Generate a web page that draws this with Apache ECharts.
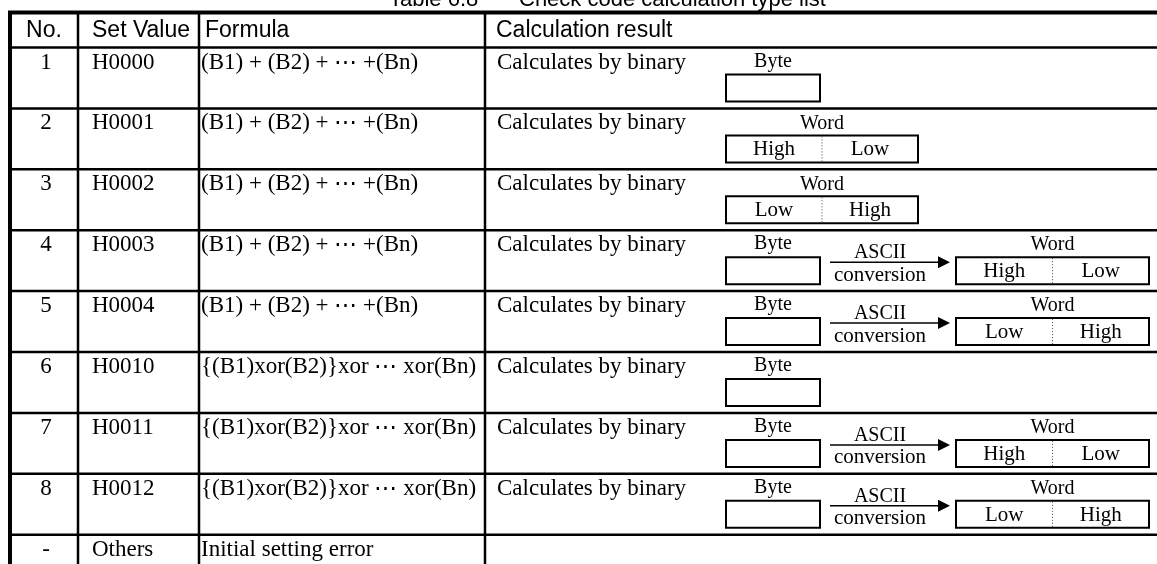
<!DOCTYPE html>
<html><head><meta charset="utf-8">
<script src="https://cdn.jsdelivr.net/npm/echarts@6/dist/echarts.min.js"></script>
<style>html,body{margin:0;padding:0;background:#fff}#c{width:1157px;height:564px}</style>
</head><body><div id="c"></div>
<script>
// ---------- content ----------
const titleParts = ['Table 6.8', 'Check code calculation type list'];
const headers = ['No.', 'Set Value', 'Formula', 'Calculation result'];
const rowNos = ['1', '2', '3', '4', '5', '6', '7', '8', '-'];
const setValues = ['H0000', 'H0001', 'H0002', 'H0003', 'H0004', 'H0010', 'H0011', 'H0012', 'Others'];
const formulas = [
  '(B1) + (B2) + \u22EF +(Bn)',
  '(B1) + (B2) + \u22EF +(Bn)',
  '(B1) + (B2) + \u22EF +(Bn)',
  '(B1) + (B2) + \u22EF +(Bn)',
  '(B1) + (B2) + \u22EF +(Bn)',
  '{(B1)xor(B2)}xor \u22EF xor(Bn)',
  '{(B1)xor(B2)}xor \u22EF xor(Bn)',
  '{(B1)xor(B2)}xor \u22EF xor(Bn)',
  'Initial setting error'
];
const results = ['Calculates by binary', 'Calculates by binary', 'Calculates by binary', 'Calculates by binary',
  'Calculates by binary', 'Calculates by binary', 'Calculates by binary', 'Calculates by binary', ''];
// diagram kind per row: byte only, word only, byte -> ASCII conversion -> word
const resultForms = ['byte', 'word', 'word', 'byteToWord', 'byteToWord', 'byte', 'byteToWord', 'byteToWord', ''];
const wordHalves = [[], ['High', 'Low'], ['Low', 'High'], ['High', 'Low'], ['Low', 'High'], [], ['High', 'Low'], ['Low', 'High'], []];
const diagramLabels = { byte: 'Byte', word: 'Word', ascii: 'ASCII', conversion: 'conversion' };

// ---------- layout / style ----------
const SERIF = '"Liberation Serif", "Times New Roman", serif';
const SANS = '"Liberation Sans", Arial, sans-serif';
const X_LEFT = 10, X_COL1 = 78, X_COL2 = 199, X_COL3 = 485, X_RIGHT = 1170;
const HEADER_SPAN = 0.575;           // header height in row units
const GRID_TOP = 47.5, ROW_PX = 60.9;
const Y_MAX = (564 - GRID_TOP) / ROW_PX;  // visible rows in the window
const BYTE_BOX = [726, 820];
const WORD_BOX_NEAR = [726, 918];
const WORD_BOX_FAR = [956, 1149];
const ARROW = [830, 950];
const ASCII_X = 880;

function line(x1, y1, x2, y2, w, dash) {
  return { type: 'line', shape: { x1, y1, x2, y2 },
    style: { stroke: dash ? '#444' : '#000', lineWidth: w, lineDash: dash || null } };
}
function text(x, y, s, size, family, align) {
  return { type: 'text', x, y,
    style: { text: s, fontSize: size, fontFamily: family, fill: '#000', align: align || 'left', verticalAlign: 'middle' } };
}
function rect(x, y, w, h) {
  return { type: 'rect', shape: { x, y, width: w, height: h },
    style: { fill: '#fff', stroke: '#000', lineWidth: 2 } };
}

function renderFrame(params, api) {
  const cx = v => api.coord([v, 0])[0];
  const cy = v => api.coord([0, v])[1];
  const yTop = cy(-HEADER_SPAN), yHead = cy(0), yEnd = cy(rowNos.length);
  const ch = [];
  ch.push(line(cx(X_LEFT) - 2, yTop, cx(X_RIGHT), yTop, 4));
  ch.push(line(cx(X_LEFT), yTop, cx(X_LEFT), yEnd, 4));
  [X_COL1, X_COL2, X_COL3].forEach(c => ch.push(line(cx(c), yTop, cx(c), yEnd, 2.5)));
  ch.push(line(cx(X_LEFT), yHead, cx(X_RIGHT), yHead, 2.5));
  const ym = (yTop + yHead) / 2 + 1;
  ch.push(text((cx(X_LEFT) + cx(X_COL1)) / 2, ym, headers[0], 23, SANS, 'center'));
  ch.push(text(cx(X_COL1) + 14, ym, headers[1], 23, SANS));
  ch.push(text(cx(X_COL2) + 6, ym, headers[2], 23, SANS));
  ch.push(text(cx(X_COL3) + 11, ym, headers[3], 23, SANS));
  return { type: 'group', children: ch };
}

function renderRow(params, api) {
  const i = api.value(1);
  const cx = v => api.coord([v, 0])[0];
  const T = api.coord([0, i])[1];
  const B = api.coord([0, i + 1])[1];
  const ch = [];
  ch.push(line(cx(X_LEFT), B, cx(X_RIGHT), B, 2.5));
  const yt = T + 15;
  ch.push(text((cx(X_LEFT) + cx(X_COL1)) / 2 + 2, yt, rowNos[i], 23, SERIF, 'center'));
  ch.push(text(cx(X_COL1) + 14, yt, setValues[i], 23, SERIF));
  ch.push(text(cx(X_COL2) + 2, yt, formulas[i], 23, SERIF));
  ch.push(text(cx(X_COL3) + 12, yt, results[i], 23, SERIF));

  const form = resultForms[i];
  const boxTop = T + 27, boxH = 27;
  const labelY = T + 15;
  function wordBox(xr, halves) {
    const x0 = cx(xr[0]), x1 = cx(xr[1]), mid = (x0 + x1) / 2;
    ch.push(rect(x0, boxTop, x1 - x0, boxH));
    ch.push(line(mid, boxTop + 1, mid, boxTop + boxH - 1, 1, [1, 2]));
    ch.push(text(mid, labelY, diagramLabels.word, 20, SERIF, 'center'));
    ch.push(text((x0 + mid) / 2, boxTop + boxH / 2 + 1, halves[0], 21, SERIF, 'center'));
    ch.push(text((mid + x1) / 2, boxTop + boxH / 2 + 1, halves[1], 21, SERIF, 'center'));
  }
  function byteBox() {
    const x0 = cx(BYTE_BOX[0]), x1 = cx(BYTE_BOX[1]);
    ch.push(rect(x0, boxTop, x1 - x0, boxH));
    ch.push(text((x0 + x1) / 2, labelY - 1, diagramLabels.byte, 20, SERIF, 'center'));
  }
  if (form === 'byte') {
    byteBox();
  } else if (form === 'word') {
    wordBox(WORD_BOX_NEAR, wordHalves[i]);
  } else if (form === 'byteToWord') {
    byteBox();
    const ay = T + 32;
    const a0 = cx(ARROW[0]), a1 = cx(ARROW[1]);
    ch.push(line(a0, ay, a1 - 10, ay, 1.5));
    ch.push({ type: 'polygon', shape: { points: [[a1 - 12, ay - 6], [a1, ay], [a1 - 12, ay + 6]] }, style: { fill: '#000' } });
    ch.push(text(cx(ASCII_X), T + 23, diagramLabels.ascii, 20, SERIF, 'center'));
    ch.push(text(cx(ASCII_X), T + 45, diagramLabels.conversion, 21, SERIF, 'center'));
    wordBox(WORD_BOX_FAR, wordHalves[i]);
  }
  return { type: 'group', children: ch };
}

const chart = echarts.init(document.getElementById('c'), null, { renderer: 'canvas' });
chart.setOption({
  animation: false,
  backgroundColor: '#fff',
  title: [
    { text: titleParts[0], left: 389, top: -11, padding: 0,
      textStyle: { fontFamily: SANS, fontSize: 22, fontWeight: 'normal', color: '#000' } },
    { text: titleParts[1], left: 519, top: -11, padding: 0,
      textStyle: { fontFamily: SANS, fontSize: 22, fontWeight: 'normal', color: '#000' } }
  ],
  grid: { left: 0, top: GRID_TOP, width: 1157, height: 564 - GRID_TOP },
  xAxis: { type: 'value', min: 0, max: 1157, show: false },
  yAxis: { type: 'value', min: 0, max: Y_MAX, inverse: true, show: false },
  series: [
    { type: 'custom', clip: false, silent: true, renderItem: renderFrame, data: [[0, 0]], encode: { x: 0, y: 1 }, z: 1 },
    { type: 'custom', clip: false, silent: true, renderItem: renderRow,
      data: rowNos.map((_, i) => [0, i]), encode: { x: 0, y: 1 }, z: 2 }
  ]
});
</script>
</body></html>
